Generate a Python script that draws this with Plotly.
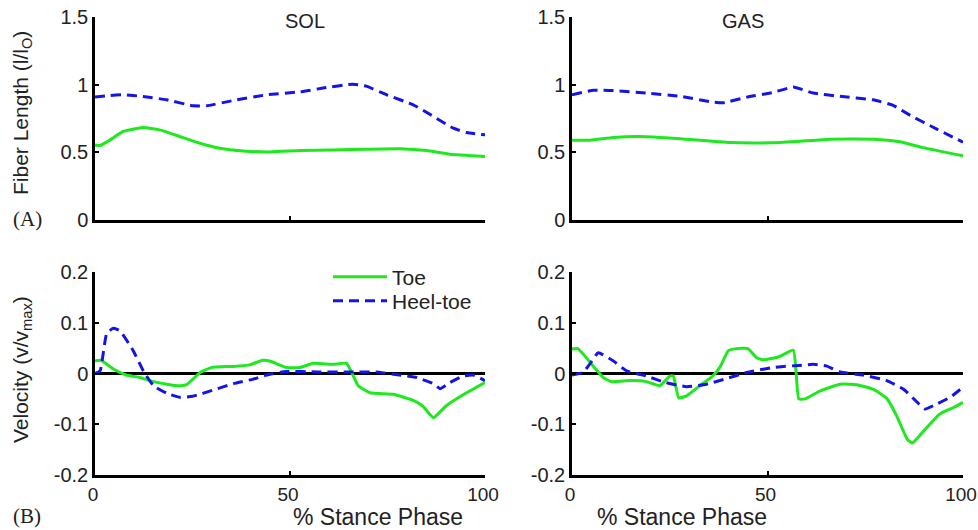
import plotly.graph_objects as go

# ---------------- data ----------------
# SOL fiber length
sol_len_toe_x = [0, 1.3, 3.8, 7.2, 12.3, 16.6, 21.7, 26.9, 32, 38, 44.9, 52.6, 61, 69.7, 78.2, 85, 91, 100]
sol_len_toe_y = [0.555, 0.55, 0.59, 0.654, 0.683, 0.666, 0.617, 0.567, 0.530, 0.51, 0.503, 0.513, 0.518, 0.523, 0.526, 0.513, 0.486, 0.469]
sol_len_heel_x = [0, 3.8, 7.2, 12.3, 18.4, 25.2, 28.6, 35.5, 44, 52.6, 58.5, 66.2, 69.7, 74.8, 81.6, 86.8, 91.9, 95.3, 100]
sol_len_heel_y = [0.908, 0.92, 0.925, 0.913, 0.888, 0.844, 0.844, 0.883, 0.925, 0.947, 0.975, 1.004, 0.987, 0.925, 0.851, 0.765, 0.678, 0.646, 0.629]

# GAS fiber length
gas_len_toe_x = [0, 4.7, 10.6, 17.4, 27.7, 40.4, 50.6, 57.4, 66, 77, 83.8, 89.8, 100]
gas_len_toe_y = [0.59, 0.59, 0.61, 0.617, 0.600, 0.572, 0.570, 0.580, 0.597, 0.597, 0.578, 0.535, 0.475]
gas_len_heel_x = [0, 5.5, 10.6, 19, 27.7, 36, 38.7, 44.7, 51.5, 56.6, 61.7, 68.5, 77, 82, 87, 92, 100]
gas_len_heel_y = [0.926, 0.958, 0.956, 0.938, 0.914, 0.871, 0.866, 0.908, 0.943, 0.982, 0.938, 0.914, 0.888, 0.849, 0.765, 0.691, 0.575]

# SOL velocity
sol_vel_toe_x = [0, 1.5, 4.7, 8, 11.5, 14, 18.4, 22, 23.5, 27, 30, 35.5, 39.7, 43, 45, 49, 52.6, 56, 61, 64.5, 67.5, 70.5, 76.5, 81.6, 84, 86.8, 90, 94.4, 100]
sol_vel_toe_y = [0.025, 0.026, 0.009, -0.003, -0.008, -0.014, -0.021, -0.024, -0.022, 0.002, 0.012, 0.014, 0.017, 0.026, 0.024, 0.012, 0.012, 0.02, 0.018, 0.02, -0.024, -0.038, -0.041, -0.053, -0.064, -0.087, -0.064, -0.042, -0.018]
sol_vel_heel_x = [0, 1.3, 3, 4.7, 6.4, 9.8, 12.4, 15, 18.4, 21.8, 25, 31, 35.5, 40.6, 44, 49, 57, 65, 72, 78, 82.5, 86.8, 88.5, 91, 94.4, 97, 100]
sol_vel_heel_y = [0, 0.005, 0.079, 0.089, 0.084, 0.045, 0.005, -0.024, -0.039, -0.047, -0.045, -0.031, -0.020, -0.011, -0.003, 0.004, 0.003, 0.003, 0.003, -0.003, -0.008, -0.02, -0.03, -0.018, -0.005, -0.003, -0.014]

# GAS velocity
gas_vel_toe_x = [0, 1.5, 5.4, 8, 10, 14.8, 19, 22.5, 25, 25.9, 27.3, 29.3, 32.7, 36, 37.8, 40, 42, 45, 47.2, 49, 53, 56.6, 58, 59.6, 63.5, 68.6, 72.8, 77, 80.5, 83, 85.7, 87, 90.8, 94, 97.6, 100]
gas_vel_toe_y = [0.048, 0.049, 0.015, -0.008, -0.016, -0.014, -0.016, -0.024, -0.005, -0.005, -0.048, -0.044, -0.024, -0.005, 0.012, 0.045, 0.049, 0.049, 0.031, 0.027, 0.033, 0.046, -0.05, -0.05, -0.034, -0.021, -0.022, -0.031, -0.049, -0.083, -0.129, -0.137, -0.106, -0.08, -0.067, -0.057]
gas_vel_heel_x = [0, 2.8, 4.5, 6.7, 10.5, 14, 19, 24, 29.3, 34.4, 39.5, 44.7, 51.5, 58, 61.7, 65, 68.6, 74.5, 80.5, 84.8, 87.4, 90.3, 93.3, 96.7, 100]
gas_vel_heel_y = [-0.003, 0.002, 0.018, 0.041, 0.025, 0.005, -0.005, -0.018, -0.026, -0.021, -0.01, 0.002, 0.012, 0.016, 0.018, 0.015, 0.003, -0.003, -0.014, -0.031, -0.05, -0.07, -0.06, -0.047, -0.027]

series_names = ["Toe", "Heel-toe"]
len_ticks = [0, 0.5, 1, 1.5]
len_ticktext = ["0", "0.5", "1", "1.5"]
vel_ticks = [-0.2, -0.1, 0, 0.1, 0.2]
vel_ticktext = ["-0.2", "-0.1", "0", "0.1", "0.2"]
x_ticks = [0, 50, 100]
x_ticktext = ["0", "50", "100"]
panel_titles = ["SOL", "GAS"]

GREEN = "#1ee81e"
BLUE = "#1414e8"
SANS = "Liberation Sans, Arial, sans-serif"
SERIF = "Liberation Serif, Times New Roman, serif"
TXT = "#222222"

fig = go.Figure()

def add_pair(xa, ya, tx, ty, hx, hy, show):
    fig.add_trace(go.Scatter(x=tx, y=ty, mode="lines", name=series_names[0],
                             line=dict(color=GREEN, width=3, shape="spline", smoothing=0.4),
                             xaxis=xa, yaxis=ya, showlegend=show, legend="legend"))
    fig.add_trace(go.Scatter(x=hx, y=hy, mode="lines", name=series_names[1],
                             line=dict(color=BLUE, width=3, dash="10px,6px", shape="spline", smoothing=0.4),
                             xaxis=xa, yaxis=ya, showlegend=show, legend="legend2"))

add_pair("x", "y", sol_len_toe_x, sol_len_toe_y, sol_len_heel_x, sol_len_heel_y, False)
add_pair("x2", "y2", gas_len_toe_x, gas_len_toe_y, gas_len_heel_x, gas_len_heel_y, False)
add_pair("x3", "y3", sol_vel_toe_x, sol_vel_toe_y, sol_vel_heel_x, sol_vel_heel_y, True)
add_pair("x4", "y4", gas_vel_toe_x, gas_vel_toe_y, gas_vel_heel_x, gas_vel_heel_y, False)

W, H = 978, 530
xl = [95 / W, 485 / W]
xr = [572 / W, 963 / W]
yt = [1 - 220 / H, 1 - 17 / H]
yb = [1 - 475 / H, 1 - 272 / H]

TICKSIZE = 20
axis_common = dict(showline=True, linecolor="black", linewidth=2.5, showgrid=False,
                   ticks="inside", ticklen=4, tickwidth=2, tickcolor="black", automargin=False,
                   ticklabeloverflow="allow",
                   tickfont=dict(family=SANS, size=TICKSIZE, color=TXT))

def xax(domain, anchor, labels):
    d = dict(axis_common, domain=domain, anchor=anchor, range=[0, 100],
             tickvals=x_ticks, ticktext=x_ticktext, zeroline=False,
             showticklabels=labels, ticklabelshift=-2,
             tickfont=dict(family=SANS, size=19, color=TXT))
    return d

def yax(domain, anchor, vel):
    d = dict(axis_common, domain=domain, anchor=anchor)
    if vel:
        d.update(range=[-0.2, 0.2], tickvals=vel_ticks, ticktext=vel_ticktext,
                 zeroline=True, zerolinecolor="black", zerolinewidth=2.5)
    else:
        d.update(range=[0, 1.5], tickvals=len_ticks, ticktext=len_ticktext, zeroline=False)
    return d

leg_common = dict(xanchor="left", yanchor="middle", bgcolor="rgba(0,0,0,0)",
                  font=dict(family=SANS, size=21, color=TXT), itemwidth=54)

fig.update_layout(
    width=W, height=H,
    margin=dict(l=0, r=0, t=0, b=0, autoexpand=False),
    paper_bgcolor="white", plot_bgcolor="white",
    xaxis=xax(xl, "y", False), yaxis=yax(yt, "x", False),
    xaxis2=xax(xr, "y2", False), yaxis2=yax(yt, "x2", False),
    xaxis3=xax(xl, "y3", True), yaxis3=yax(yb, "x3", True),
    xaxis4=xax(xr, "y4", True), yaxis4=yax(yb, "x4", True),
    showlegend=True,
    legend=dict(leg_common, x=328 / W, y=1 - 277 / H),
    legend2=dict(leg_common, x=328 / W, y=1 - 301 / H),
)

ann = []
ann.append(dict(text=panel_titles[0], x=283 / W, y=1 - 21 / H, xref="paper", yref="paper",
                showarrow=False, font=dict(family=SANS, size=20, color=TXT), yanchor="middle"))
ann.append(dict(text=panel_titles[1], x=766 / W, y=1 - 21 / H, xref="paper", yref="paper",
                showarrow=False, font=dict(family=SANS, size=20, color=TXT), yanchor="middle"))
ann.append(dict(text="Fiber Length (l/l<sub>O</sub>)", x=22 / W, y=1 - 113 / H, xref="paper", yref="paper",
                showarrow=False, textangle=-90, font=dict(family=SANS, size=21, color=TXT),
                xanchor="center", yanchor="middle"))
ann.append(dict(text="Velocity (v/v<sub>max</sub>)", x=22 / W, y=1 - 370 / H, xref="paper", yref="paper",
                showarrow=False, textangle=-90, font=dict(family=SANS, size=21, color=TXT),
                xanchor="center", yanchor="middle"))
ann.append(dict(text="% Stance Phase", x=291 / W, y=1 - 517 / H, xref="paper", yref="paper",
                showarrow=False, font=dict(family=SANS, size=23, color=TXT), yanchor="middle"))
ann.append(dict(text="% Stance Phase", x=769 / W, y=1 - 517 / H, xref="paper", yref="paper",
                showarrow=False, font=dict(family=SANS, size=23, color=TXT), yanchor="middle"))
ann.append(dict(text="(A)", x=11 / W, y=1 - 219 / H, xref="paper", yref="paper", xanchor="left",
                showarrow=False, font=dict(family=SERIF, size=21, color=TXT), yanchor="middle"))
ann.append(dict(text="(B)", x=11 / W, y=1 - 516 / H, xref="paper", yref="paper", xanchor="left",
                showarrow=False, font=dict(family=SERIF, size=21, color=TXT), yanchor="middle"))
fig.update_layout(annotations=ann)

fig.write_html("out.html", config={"displayModeBar": False},
               post_script="document.body.style.margin='0';document.body.style.padding='0';document.body.style.overflow='hidden';")
